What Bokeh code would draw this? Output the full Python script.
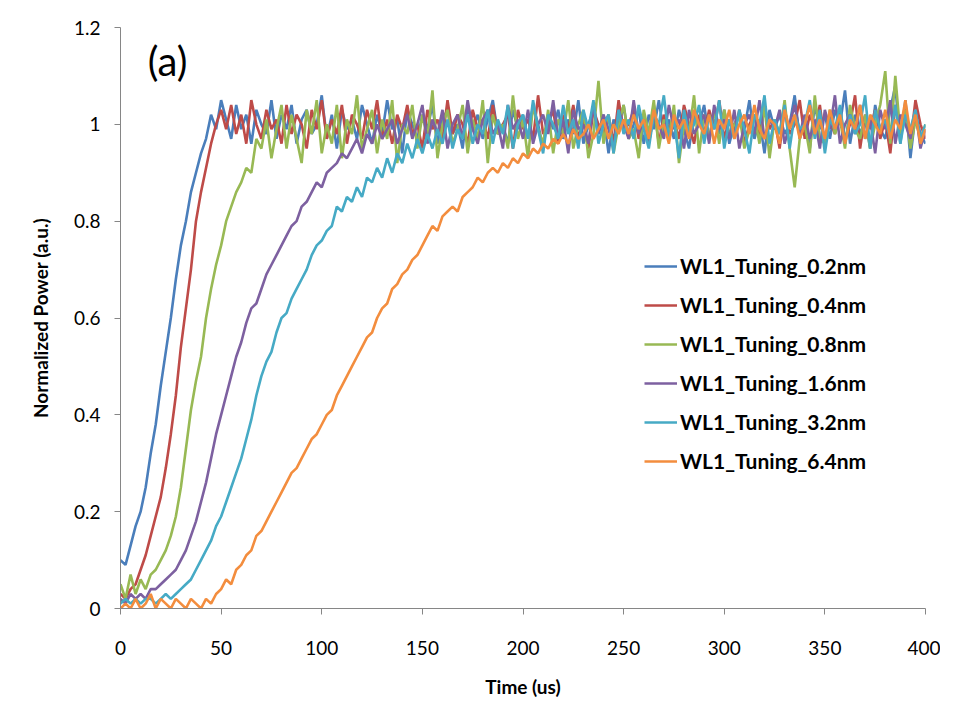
from bokeh.plotting import figure
from bokeh.models import ColumnDataSource, FixedTicker, Range1d, Legend, LegendItem, Label
from bokeh.embed import file_html
from bokeh.resources import INLINE

time_us = [i * 2.5 for i in range(161)]

wl_02 = [0.10, 0.09, 0.13, 0.17, 0.20, 0.25, 0.32, 0.38, 0.46, 0.53, 0.60, 0.68, 0.75, 0.80, 0.86, 0.90, 0.94, 0.97, 1.02, 0.99, 1.05,
         1.01, 0.97, 1.04, 0.99, 1.02, 0.96, 1.03, 1.00, 0.98, 1.05,
         0.97, 1.02, 0.99, 1.04, 0.96, 1.01, 1.03, 0.98, 1.00, 1.06,
         0.97, 1.02, 0.95, 1.03, 0.99, 1.01, 0.97, 1.04, 1.00, 0.96,
         1.02, 0.98, 1.05, 0.99, 1.01, 0.94, 1.03, 1.00, 0.97, 1.02,
         0.99, 1.04, 0.96, 1.01, 1.03, 0.98, 1.00, 0.95, 1.04, 0.99,
         1.02, 0.97, 1.01, 1.05, 0.98, 1.00, 0.96, 1.03, 0.99, 1.02,
         0.97, 1.04, 1.00, 0.95, 1.02, 0.99, 1.03, 0.97, 1.01, 0.98,
         1.05, 0.96, 1.00, 1.03, 0.98, 1.02, 0.94, 1.01, 0.99, 1.04,
         0.97, 1.00, 1.03, 0.96, 1.02, 0.99, 1.05, 0.98, 1.01, 0.97,
         1.03, 0.99, 0.95, 1.02, 1.00, 1.04, 0.97, 1.01, 0.98, 1.03,
         0.96, 1.00, 1.02, 0.99, 1.05, 0.97, 1.01, 0.94, 1.03, 0.99,
         1.02, 0.98, 1.00, 1.06, 0.97, 1.01, 0.95, 1.04, 0.99, 1.02,
         0.97, 1.03, 1.00, 1.07, 0.96, 1.02, 0.98, 1.01, 0.95, 1.04,
         0.99, 0.97, 1.03, 1.08, 0.96, 1.05, 0.93, 1.02, 0.98, 0.96]

wl_04 = [0.03, 0.02, 0.04, 0.05, 0.08, 0.11, 0.15, 0.19, 0.23, 0.29, 0.36, 0.44, 0.54, 0.62, 0.70, 0.80, 0.86, 0.91, 0.96, 1.00, 1.03,
         0.99, 1.04, 0.98, 1.02, 0.96, 1.05, 1.00, 0.97, 1.03, 0.99,
         1.01, 0.96, 1.04, 0.98, 1.02, 1.00, 0.95, 1.03, 0.99, 1.05,
         0.97, 1.01, 0.98, 1.04, 0.96, 1.02, 1.00, 0.97, 1.03, 0.99,
         1.05, 0.97, 1.01, 0.96, 1.02, 0.99, 1.04, 0.98, 1.00, 0.95,
         1.03, 0.99, 1.01, 0.97, 1.05, 0.98, 1.02, 1.00, 0.96, 1.03,
         0.99, 1.01, 0.97, 1.04, 0.98, 1.00, 1.02, 0.95, 1.03, 0.99,
         1.01, 0.97, 1.06, 0.98, 1.00, 1.03, 0.96, 1.02, 0.99, 1.04,
         0.97, 1.01, 0.95, 1.03, 1.00, 0.98, 1.02, 0.96, 1.05, 0.99,
         1.00, 1.03, 0.97, 1.01, 0.98, 1.04, 0.96, 1.02, 0.99, 1.01,
         0.97, 1.04, 1.00, 0.96, 1.02, 0.98, 1.03, 0.99, 1.05, 0.97,
         1.01, 0.98, 1.03, 0.96, 1.00, 1.02, 0.97, 1.04, 0.99, 1.01,
         0.95, 1.03, 0.98, 1.00, 1.05, 0.97, 1.02, 0.99, 1.04, 0.96,
         1.01, 0.98, 1.03, 0.97, 1.00, 1.06, 0.95, 1.02, 0.99, 1.03,
         0.97, 1.01, 0.94, 1.04, 0.98, 1.02, 0.96, 1.05, 1.00, 0.97]

wl_08 = [0.05, 0.02, 0.07, 0.03, 0.06, 0.04, 0.07, 0.08, 0.10, 0.12, 0.15, 0.19, 0.25, 0.33, 0.41, 0.47, 0.52, 0.60, 0.66, 0.71,
         0.75, 0.80, 0.83, 0.86, 0.88, 0.91, 0.90, 0.97, 0.95,
         1.01, 0.93, 0.99, 1.04, 0.95, 1.02, 0.97, 0.92, 1.03, 0.98,
         1.05, 0.94, 1.00, 0.96, 1.04, 0.93, 1.01, 0.98, 1.06, 0.95,
         0.99, 1.03, 0.94, 1.01, 0.97, 1.05, 0.92, 1.00, 0.98, 1.04,
         0.95, 1.02, 0.97, 1.07, 0.93, 1.00, 1.03, 0.96, 0.99, 1.04,
         0.94, 1.01, 0.97, 1.05, 0.92, 1.02, 0.98, 1.00, 0.95, 1.06,
         0.97, 1.01, 0.93, 1.04, 0.99, 0.96, 1.03, 0.94, 1.01, 0.98,
         1.05, 0.95, 1.00, 1.03, 0.93, 0.98, 1.09, 0.96, 1.02, 0.94,
         1.00, 1.04, 0.97, 0.99, 0.93, 1.03, 0.98, 1.05, 0.95, 1.01,
         0.97, 1.04, 0.92, 1.00, 0.98, 1.06, 0.94, 1.02, 0.97, 1.03,
         0.96, 1.03, 0.98, 1.00, 1.02, 0.95, 0.99, 1.02, 0.96, 1.04,
         0.93, 1.01, 0.98, 1.05, 0.95, 0.87, 0.97, 1.00, 0.94, 1.06,
         0.97, 0.96, 1.03, 0.98, 1.01, 0.95, 1.04, 0.99, 0.97, 1.02,
         0.95, 1.00, 1.04, 1.11, 0.96, 1.10, 0.98, 1.03, 0.95, 1.01,
         0.97, 1.00]

wl_16 = [0.02, 0.01, 0.03, 0.02, 0.03, 0.02, 0.04, 0.04, 0.05, 0.06, 0.07, 0.08, 0.10, 0.12, 0.15, 0.18, 0.22, 0.26, 0.31, 0.36,
         0.40, 0.44, 0.48, 0.52, 0.55, 0.59, 0.62, 0.63, 0.66, 0.69, 0.71, 0.73, 0.75, 0.77, 0.79, 0.80, 0.83, 0.84, 0.86, 0.88,
         0.87, 0.90, 0.91, 0.92, 0.94, 0.93, 0.95, 0.97, 0.94, 0.98, 0.96, 1.00, 0.97, 0.99, 1.01, 0.96, 0.99,
         1.02, 0.97, 1.00, 1.04, 0.96, 1.01, 0.98, 1.03, 0.95, 1.00,
         1.02, 0.97, 1.05, 0.99, 0.96, 1.01, 1.03, 0.98, 1.00, 0.95,
         1.04, 0.99, 1.01, 0.97, 1.03, 0.96, 1.00, 1.02, 0.98, 1.05,
         0.97, 1.01, 0.94, 1.03, 0.99, 1.00, 0.96, 1.04, 0.98, 1.02,
         0.99, 0.95, 1.03, 1.00, 0.97, 1.05, 0.98, 1.01, 0.96, 1.02,
         1.00, 0.97, 1.04, 0.99, 1.01, 0.95, 1.03, 0.98, 1.00, 1.02,
         0.96, 1.04, 0.99, 1.01, 0.97, 1.03, 0.95, 1.00, 1.02, 0.98,
         1.05, 0.97, 1.01, 0.99, 1.03, 0.96, 1.00, 1.04, 0.98, 1.02,
         0.97, 1.01, 0.95, 1.03, 0.99, 1.06, 0.96, 1.00, 1.02, 0.98,
         1.04, 0.97, 1.01, 0.94, 1.03, 0.99, 1.05, 0.96, 1.02, 1.00,
         0.97, 1.03, 0.95, 0.99]

wl_32 = [0.01, 0.02, 0.01, 0.02, 0.01, 0.02, 0.02, 0.01, 0.02, 0.03, 0.02, 0.03, 0.04, 0.05, 0.06, 0.08, 0.10, 0.12, 0.14, 0.17,
         0.19, 0.22, 0.25, 0.28, 0.31, 0.35, 0.39, 0.44, 0.48, 0.51, 0.53, 0.57, 0.60, 0.61, 0.64, 0.66, 0.68, 0.70, 0.73, 0.75,
         0.76, 0.78, 0.79, 0.83, 0.82, 0.85, 0.84, 0.87, 0.85, 0.89, 0.88, 0.91, 0.89, 0.93, 0.90, 0.94, 0.92, 0.96, 0.93, 0.97,
         0.94, 0.98, 0.95, 0.99, 0.96, 1.01, 0.95, 0.99, 0.97, 1.02, 0.96, 1.00, 0.98,
         1.03, 0.96, 1.01, 0.98, 1.04, 0.95, 1.00, 1.02, 0.97, 1.05,
         0.99, 0.94, 1.02, 1.00, 0.97, 1.04, 0.98, 1.01, 0.95, 1.03,
         0.99, 1.05, 0.96, 1.00, 1.02, 0.94, 1.03, 0.98, 1.01, 0.97,
         1.04, 0.99, 0.95, 1.02, 1.00, 1.06, 0.97, 1.01, 0.93, 1.03,
         0.98, 1.00, 1.04, 0.96, 1.02, 0.99, 1.05, 0.95, 1.01, 0.97,
         1.03, 0.99, 0.94, 1.02, 1.00, 1.06, 0.96, 1.01, 0.98, 1.04,
         0.95, 1.02, 0.99, 1.00, 1.05, 0.97, 1.03, 0.94, 1.01, 0.99,
         1.04, 0.96, 1.02, 0.98, 1.00, 1.06, 0.95, 1.03, 0.99, 1.01,
         0.97, 1.04, 0.96, 1.02, 0.99, 1.03, 0.97, 1.00]

wl_64 = [0.00, 0.01, 0.00, 0.02, 0.00, 0.01, 0.03, 0.00, 0.02, 0.01, 0.00, 0.02, 0.01, 0.00, 0.02, 0.01, 0.00, 0.02, 0.01, 0.03,
         0.04, 0.06, 0.05, 0.08, 0.09, 0.11, 0.12, 0.15, 0.16, 0.18, 0.20, 0.22, 0.24, 0.26, 0.28, 0.29, 0.31, 0.33, 0.35, 0.36,
         0.38, 0.40, 0.41, 0.44, 0.46, 0.48, 0.50, 0.52, 0.54, 0.56, 0.57, 0.60, 0.62, 0.63, 0.66, 0.67, 0.69, 0.70, 0.72, 0.73,
         0.75, 0.77, 0.79, 0.78, 0.81, 0.82, 0.83, 0.82, 0.85, 0.86, 0.87, 0.89, 0.88, 0.90, 0.91, 0.90, 0.92, 0.91, 0.93, 0.92,
         0.94, 0.93, 0.95, 0.94, 0.96, 0.95, 0.97, 0.96, 0.98, 0.96, 0.99, 0.97, 0.98, 1.00, 0.97, 0.99, 1.01, 0.97, 1.00, 0.98,
         1.01,
         0.98, 1.02, 0.99, 1.01, 0.97, 1.03, 0.99, 1.00, 0.96, 1.02,
         0.99, 1.01, 0.97, 1.03, 1.00, 0.98, 1.02, 0.96, 1.01, 0.99,
         1.03, 0.97, 1.00, 1.02, 0.98, 1.04, 0.99, 0.97, 1.01, 1.00,
         0.96, 1.03, 0.99, 1.02, 0.97, 1.00, 1.04, 0.98, 1.01, 0.97,
         1.03, 0.99, 1.02, 0.96, 1.01, 0.99, 1.04, 0.97, 1.02, 1.00,
         0.98, 1.03, 0.97, 1.01, 0.99, 1.05, 0.98, 1.02, 0.96, 0.99]

series_names = ["WL1_Tuning_0.2nm", "WL1_Tuning_0.4nm", "WL1_Tuning_0.8nm",
                "WL1_Tuning_1.6nm", "WL1_Tuning_3.2nm", "WL1_Tuning_6.4nm"]
series_values = [wl_02, wl_04, wl_08, wl_16, wl_32, wl_64]
series_colors = ["#4A7EBB", "#BE4B48", "#98B954", "#7D60A0", "#46AAC5", "#F38D3E"]

x_ticks = [0, 50, 100, 150, 200, 250, 300, 350, 400]
y_ticks = [0, 0.2, 0.4, 0.6, 0.8, 1.0, 1.2]
y_tick_labels = ["0", "0.2", "0.4", "0.6", "0.8", "1", "1.2"]

FONT = "Lato"
AXIS_GRAY = "#868686"

p = figure(width=940, height=705, output_backend="svg", toolbar_location=None,
           x_range=Range1d(0, 400), y_range=Range1d(0, 1.2),
           min_border_left=120, min_border_right=15, min_border_top=27, min_border_bottom=97)
p.outline_line_color = None
p.xgrid.grid_line_color = None
p.ygrid.grid_line_color = None

items = []
for name, vals, col in zip(series_names, series_values, series_colors):
    src = ColumnDataSource(dict(t=time_us, v=vals))
    r = p.line("t", "v", source=src, line_color=col, line_width=2.6)
    items.append(LegendItem(label=name, renderers=[r]))

for ax in (p.xaxis[0], p.yaxis[0]):
    ax.axis_line_color = AXIS_GRAY
    ax.major_tick_line_color = AXIS_GRAY
    ax.minor_tick_line_color = None
    ax.major_tick_in = 0
    ax.major_tick_out = 6
    ax.major_label_text_font = FONT
    ax.major_label_text_font_size = "19px"
    ax.major_label_text_color = "#000000"
    ax.axis_label_text_font = FONT
    ax.axis_label_text_font_style = "bold"
    ax.axis_label_text_font_size = "19px"
    ax.axis_label_text_color = "#000000"

p.xaxis.ticker = FixedTicker(ticks=x_ticks)
p.yaxis.ticker = FixedTicker(ticks=y_ticks)
p.yaxis.major_label_overrides = dict(zip(y_ticks, y_tick_labels))
p.xaxis.axis_label = "Time (us)"
p.yaxis.axis_label = "Normalized Power (a.u.)"
p.xaxis.major_label_standoff = 26
p.xaxis.axis_label_standoff = 17
p.yaxis.major_label_standoff = 14
p.yaxis.axis_label_standoff = 19

legend = Legend(items=items, location=(524, 135))
legend.label_text_font = FONT
legend.label_text_font_style = "bold"
legend.label_text_font_size = "21px"
legend.label_text_color = "#000000"
legend.glyph_width = 33
legend.glyph_height = 24
legend.label_height = 24
legend.label_standoff = 3
legend.spacing = 14
legend.padding = 0
legend.margin = 0
legend.border_line_color = None
legend.background_fill_alpha = 0
p.add_layout(legend)

p.add_layout(Label(x=13.5, y=1.13, text="(a)", text_font=FONT, text_font_size="40px",
                   text_baseline="middle", text_align="left", text_color="#000000"))

open("out.html", "w").write(file_html(p, INLINE))
